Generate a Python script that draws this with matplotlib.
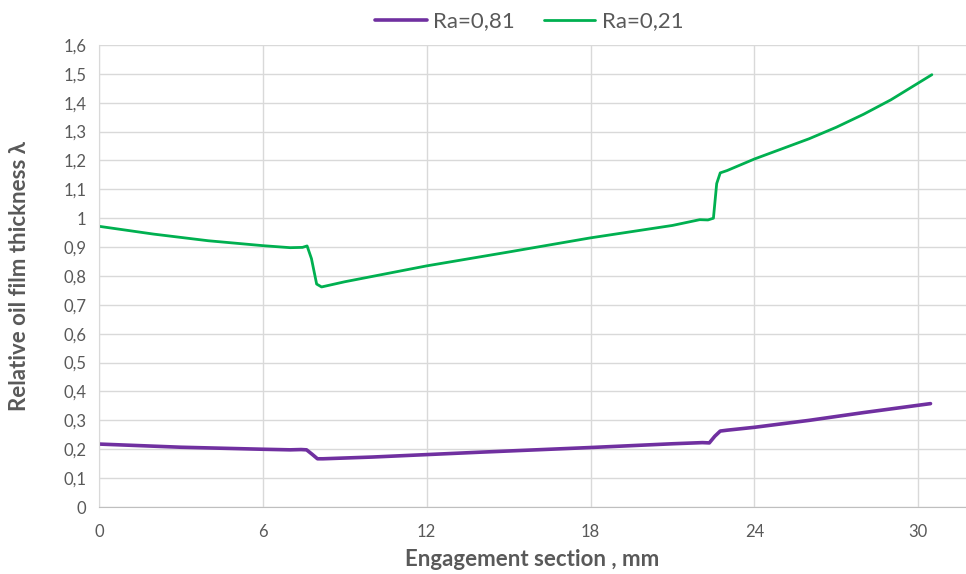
import matplotlib
matplotlib.use("Agg")
import matplotlib.pyplot as plt
from matplotlib.ticker import FuncFormatter

plt.rcParams["font.family"] = ["Lato", "DejaVu Sans"]

# Ra = 0,81 (purple)
x_081 = [0, 3, 6, 7.0, 7.4, 7.6, 7.8, 8.0, 8.2, 10, 14, 18, 21, 22.1,
         22.35, 22.55, 22.75, 23.0, 24, 26, 28, 30.45]
y_081 = [0.218, 0.207, 0.200, 0.198, 0.199, 0.198, 0.183, 0.167, 0.167,
         0.173, 0.190, 0.206, 0.219, 0.223, 0.222, 0.245, 0.263, 0.266,
         0.276, 0.300, 0.327, 0.358]

# Ra = 0,21 (green)
x_021 = [0, 2, 4, 6, 7.0, 7.45, 7.62, 7.78, 7.97, 8.15, 9, 12, 15, 18, 21,
         22.0, 22.3, 22.5, 22.62, 22.75, 23.0, 24, 25, 26, 27, 28, 29, 30.5]
y_021 = [0.972, 0.945, 0.922, 0.905, 0.898, 0.899, 0.904, 0.86, 0.772,
         0.762, 0.78, 0.835, 0.883, 0.932, 0.975, 0.995, 0.994, 1.0, 1.12,
         1.157, 1.165, 1.205, 1.24, 1.275, 1.315, 1.36, 1.41, 1.497]

x_ticks = [0, 6, 12, 18, 24, 30]
y_ticks = [i / 10 for i in range(17)]

fig = plt.figure(figsize=(9.66, 5.74), dpi=100)
ax = fig.add_axes([0.1025, 0.1167, 0.8975, 0.805])

ax.plot(x_081, y_081, color="#7030A0", lw=2.6, label="Ra=0,81",
        solid_joinstyle="round", solid_capstyle="round")
ax.plot(x_021, y_021, color="#00B050", lw=2.0, label="Ra=0,21",
        solid_joinstyle="round", solid_capstyle="round")

ax.set_xlim(0, 31.75)
ax.set_ylim(0, 1.6)
ax.set_xticks(x_ticks)
ax.set_yticks(y_ticks)
ax.yaxis.set_major_formatter(FuncFormatter(
    lambda v, p: ("%g" % round(v, 1)).replace(".", ",")))
ax.grid(True, color="#D9D9D9", lw=1.0)
ax.set_axisbelow(True)
for s in ["top", "right"]:
    ax.spines[s].set_visible(False)
ax.spines["left"].set_color("#D9D9D9")
ax.spines["bottom"].set_color("#BFBFBF")
ax.tick_params(length=0, colors="#595959", labelsize=12)
ax.tick_params(axis="x", pad=12)
ax.tick_params(axis="y", pad=9)

ax.set_xlabel("Engagement section , mm", fontsize=16, fontweight="bold",
              color="#595959", labelpad=7)
ax.set_ylabel("Relative oil film thickness λ", fontsize=16,
              fontweight="bold", color="#595959", labelpad=24)

fig.legend(loc="upper center", bbox_to_anchor=(0.548, 1.015), ncol=2,
           frameon=False, fontsize=16, labelcolor="#595959",
           handlelength=2.3, columnspacing=1.3, handletextpad=0.3)

fig.savefig("out.png", dpi=100)
